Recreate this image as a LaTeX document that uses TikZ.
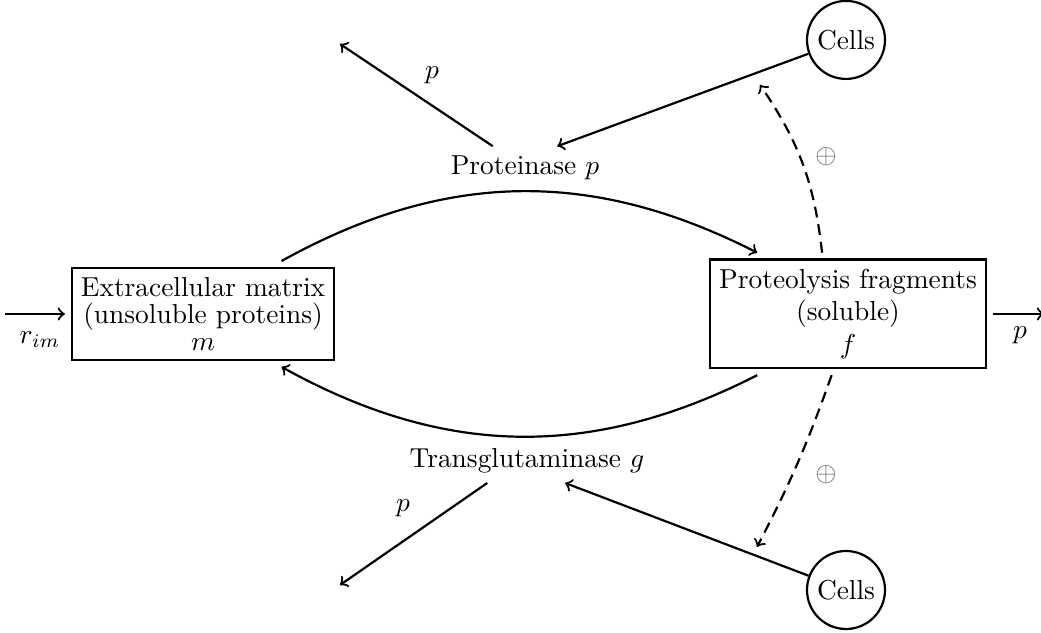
\documentclass[tikz,border=0pt]{standalone}
\usepackage{xcolor}
\usepackage{tikz}
\usetikzlibrary{positioning}
\usepackage{amsmath}

\begin{document}
\begin{tikzpicture}[
    box/.style={draw, thick, align=center, outer sep=2.5pt},
    cell/.style={draw, thick, circle, minimum size=1cm, inner sep=1pt},
    arr/.style={->, thick},
    act/.style={->, thick, dash pattern=on 4pt off 2.5pt},
    plus/.style={text=black!60},
]
\useasboundingbox (0,0) rectangle (13.346,8.115);

\node[box] (mat)  at (2.603,4.09)  {Extracellular matrix\\[-2pt](unsoluble proteins)\\[-2pt]$m$};
\node[box] (frag) at (10.872,4.09) {Proteolysis fragments\\(soluble)\\$f$};
\node (prot)  at (6.731,5.962) {Proteinase $p$};
\node (trans) at (6.756,2.205) {Transglutaminase $g$};
\node[cell] (cellsT) at (10.846,7.603) {Cells};
\node[cell] (cellsB) at (10.846,0.551) {Cells};

\coordinate (in)       at (0.064,4.09);
\coordinate (out)      at (13.385,4.09);
\coordinate (pUpEnd)   at (4.359,7.551);
\coordinate (pDownEnd) at (4.359,0.615);
\coordinate (actUp)    at (9.744,7.026);
\coordinate (actDown)  at (9.705,1.103);

% labels
\node (rim)   at (0.513,3.756) {$r_{im}$};
\node (pOut)  at (13.077,3.82) {$p$};
\node (pUp)   at (5.538,7.154) {$p$};
\node (pDown) at (5.167,1.603) {$p$};
\node[plus] (plusUp)   at (10.59,6.103) {$\oplus$};
\node[plus] (plusDown) at (10.59,2.026) {$\oplus$};

\draw[arr] (in) -- (mat);
\draw[arr] (frag) -- (out);
\draw[arr] (mat.34) to[bend left=28] (frag.146);
\draw[arr] (frag.214) to[bend left=28] (mat.-34);
\draw[arr] (prot.146) -- (pUpEnd);
\draw[arr] (trans.209) -- (pDownEnd);
\draw[arr] (cellsT) -- (prot.34);
\draw[arr] (cellsB) -- (trans.-30);
\draw[act] (frag.113) to[bend right=14] (actUp);
\draw[act] (frag.255) to[bend left=4] (actDown);
\end{tikzpicture}
\end{document}
